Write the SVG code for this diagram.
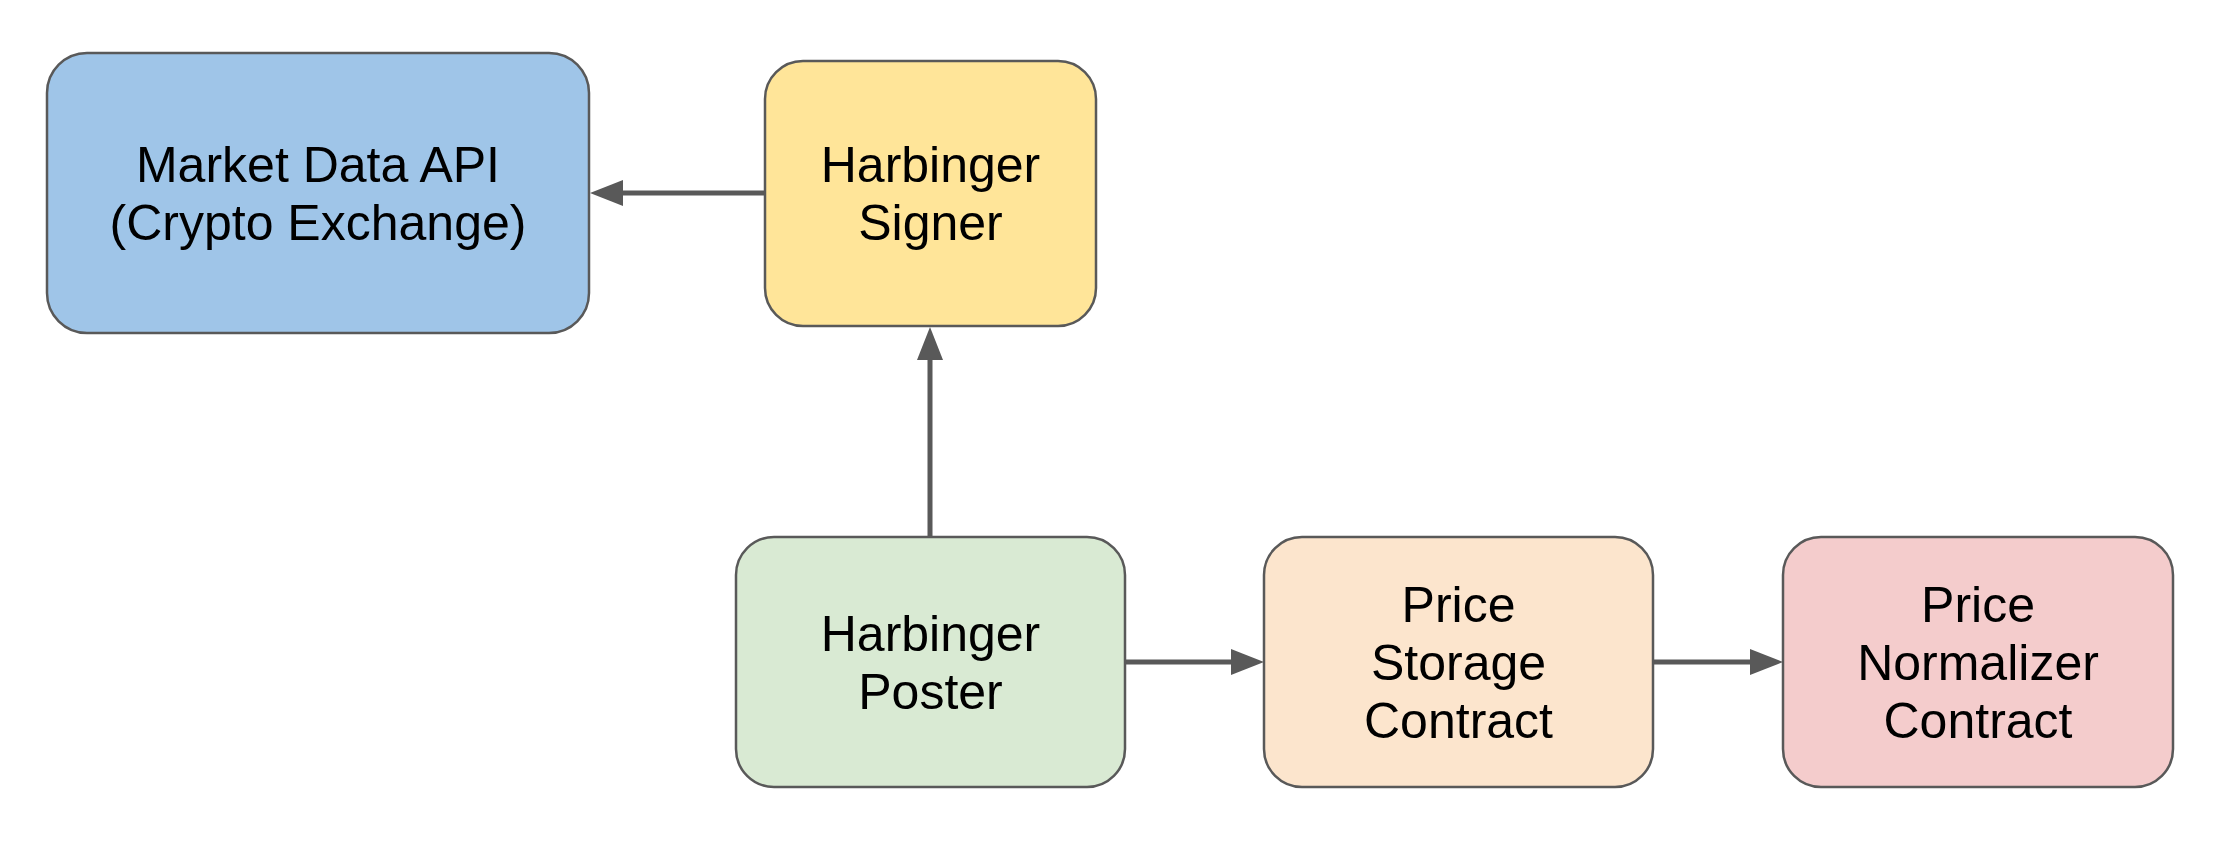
<svg xmlns="http://www.w3.org/2000/svg" width="2229" height="857" viewBox="0 0 2229 857">
  <style>
    .box { stroke: #595959; stroke-width: 2.5; }
    .lbl { font-family: "Liberation Sans", Arial, sans-serif; font-size: 50px; fill: #000000; text-anchor: middle; }
    .conn { stroke: #595959; stroke-width: 5; fill: none; }
  </style>
  <defs>
    <marker id="arrow" markerUnits="userSpaceOnUse" markerWidth="34" markerHeight="26" refX="0" refY="13" orient="auto">
      <path d="M0,0 L33,13 L0,26 Z" fill="#595959"/>
    </marker>
  </defs>
  <rect width="2229" height="857" fill="#ffffff"/>

  <g id="connectors">
    <line class="conn" x1="765" y1="193" x2="623" y2="193" marker-end="url(#arrow)"/>
    <line class="conn" x1="930" y1="537" x2="930" y2="360" marker-end="url(#arrow)"/>
    <line class="conn" x1="1125" y1="662" x2="1231" y2="662" marker-end="url(#arrow)"/>
    <line class="conn" x1="1653" y1="662" x2="1750" y2="662" marker-end="url(#arrow)"/>
  </g>

  <g id="market-data-api">
    <rect class="box" x="47" y="53" width="542" height="280" rx="40" ry="40" fill="#9fc5e8"/>
    <text class="lbl" x="318" y="182">Market Data API</text>
    <text class="lbl" x="318" y="240">(Crypto Exchange)</text>
  </g>

  <g id="harbinger-signer">
    <rect class="box" x="765" y="61" width="331" height="265" rx="38" ry="38" fill="#ffe599"/>
    <text class="lbl" x="930.5" y="182">Harbinger</text>
    <text class="lbl" x="930.5" y="240">Signer</text>
  </g>

  <g id="harbinger-poster">
    <rect class="box" x="736" y="537" width="389" height="250" rx="38" ry="38" fill="#d9ead3"/>
    <text class="lbl" x="930.5" y="651">Harbinger</text>
    <text class="lbl" x="930.5" y="709">Poster</text>
  </g>

  <g id="price-storage-contract">
    <rect class="box" x="1264" y="537" width="389" height="250" rx="38" ry="38" fill="#fce5cd"/>
    <text class="lbl" x="1458.5" y="622">Price</text>
    <text class="lbl" x="1458.5" y="680">Storage</text>
    <text class="lbl" x="1458.5" y="738">Contract</text>
  </g>

  <g id="price-normalizer-contract">
    <rect class="box" x="1783" y="537" width="390" height="250" rx="38" ry="38" fill="#f4cccc"/>
    <text class="lbl" x="1978" y="622">Price</text>
    <text class="lbl" x="1978" y="680">Normalizer</text>
    <text class="lbl" x="1978" y="738">Contract</text>
  </g>
</svg>
